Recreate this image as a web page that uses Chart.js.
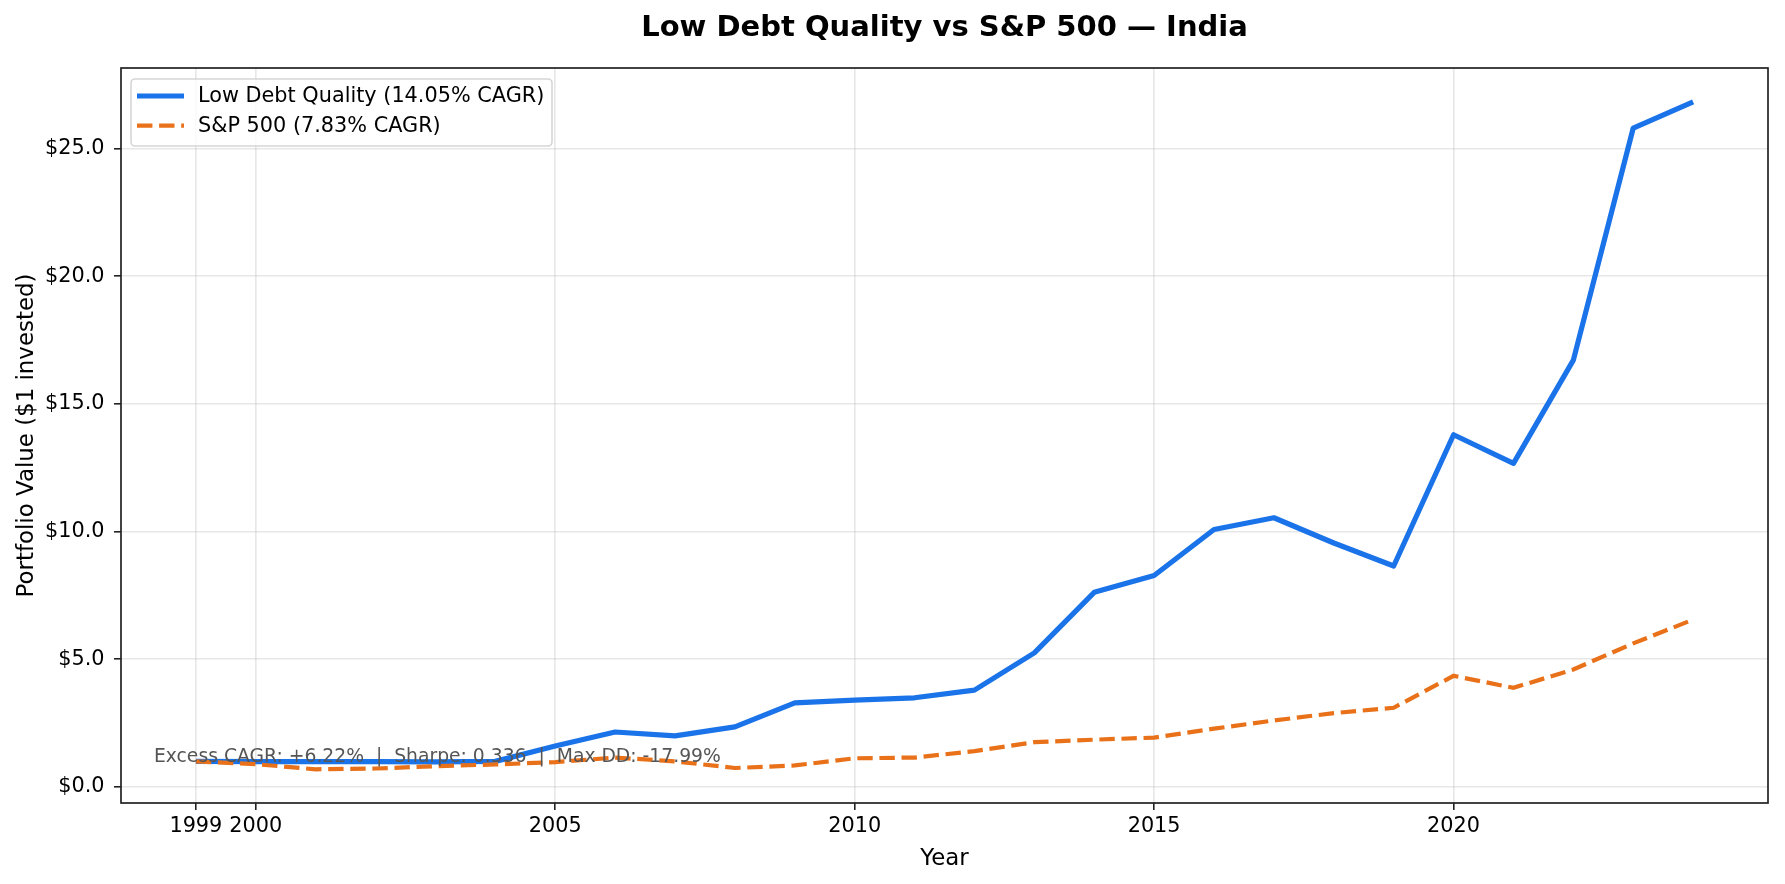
<!DOCTYPE html>
<html>
<head>
<meta charset="utf-8">
<script src="https://cdn.jsdelivr.net/npm/chart.js@4.4.1/dist/chart.umd.min.js"></script>
<style>
  html, body { margin: 0; padding: 0; background: #fff; }
  #chart { display: block; }
</style>
</head>
<body>
<canvas id="chart" width="1785" height="884"></canvas>
<script>
const years = [1999, 2000, 2001, 2002, 2003, 2004, 2005, 2006, 2007, 2008, 2009, 2010, 2011, 2012,
               2013, 2014, 2015, 2016, 2017, 2018, 2019, 2020, 2021, 2022, 2023, 2024];
const lowDebt = [1.0, 0.99, 0.99, 0.99, 0.98, 1.0, 1.6, 2.15, 2.0, 2.35, 3.29, 3.4, 3.49, 3.79,
                 5.25, 7.62, 8.28, 10.08, 10.54, 9.55, 8.65, 13.79, 12.67, 16.71, 25.8, 26.82];
const sp500 = [1.0, 0.89, 0.69, 0.72, 0.81, 0.88, 0.97, 1.15, 1.0, 0.74, 0.84, 1.12, 1.15, 1.4,
               1.75, 1.85, 1.93, 2.28, 2.6, 2.89, 3.1, 4.35, 3.88, 4.6, 5.62, 6.55];
const seriesNames = ["Low Debt Quality (14.05% CAGR)", "S&P 500 (7.83% CAGR)"];
const xTicks = [1999, 2000, 2005, 2010, 2015, 2020];
const yTicks = [0, 5, 10, 15, 20, 25];
const chartTitle = "Low Debt Quality vs S&P 500 \u2014 India";
const statsText = "Excess CAGR: +6.22%  |  Sharpe: 0.336  |  Max DD: -17.99%";

const FONT = "'DejaVu Sans', 'Liberation Sans', sans-serif";
const BLUE = "#1a73e8";
const ORANGE = "#e8711a";
const GRID = "rgba(176,176,176,0.3)";

Chart.defaults.color = "#000";
Chart.defaults.font.family = FONT;

// matplotlib-like title over the axes, frame, in-axes legend and stats text
const axesExtras = {
    id: "axesExtras",
    afterDatasetsDraw(chart) {
        const { ctx, chartArea: a } = chart;
        ctx.save();
        // title, centred on the plot area
        ctx.font = `bold 29px ${FONT}`;
        ctx.fillStyle = "#000";
        ctx.textAlign = "center";
        ctx.textBaseline = "middle";
        ctx.fillText(chartTitle, (a.left + a.right) / 2, 28);

        // stats text
        ctx.font = `18.75px ${FONT}`;
        ctx.fillStyle = "#555";
        ctx.textAlign = "left";
        ctx.textBaseline = "alphabetic";
        ctx.fillText(statsText, a.left + 0.02 * (a.right - a.left), 762);

        // legend box
        const bx = a.left + 10, by = a.top + 11, bw = 421, bh = 67;
        ctx.fillStyle = "rgba(255,255,255,0.8)";
        ctx.strokeStyle = "rgba(204,204,204,0.8)";
        ctx.lineWidth = 1.6;
        ctx.beginPath();
        ctx.roundRect(bx, by, bw, bh, 4);
        ctx.fill();
        ctx.stroke();
        ctx.font = `20.8px ${FONT}`;
        ctx.textBaseline = "middle";
        chart.data.datasets.forEach((ds, i) => {
            const y = by + 17 + i * 29.7;
            ctx.strokeStyle = ds.borderColor;
            ctx.lineWidth = ds.borderWidth;
            ctx.setLineDash(ds.borderDash || []);
            ctx.beginPath();
            ctx.moveTo(bx + 6, y);
            ctx.lineTo(bx + 53, y);
            ctx.stroke();
            ctx.setLineDash([]);
            ctx.fillStyle = "#000";
            ctx.fillText(ds.label, bx + 67, y + 1);
        });

        // spines
        ctx.strokeStyle = "#222";
        ctx.lineWidth = 1.7;
        ctx.strokeRect(a.left, a.top, a.right - a.left, a.bottom - a.top);
        ctx.restore();
    }
};

new Chart(document.getElementById("chart"), {
    type: "line",
    data: {
        datasets: [
            {
                label: seriesNames[0],
                data: years.map((y, i) => ({ x: y, y: lowDebt[i] })),
                borderColor: BLUE,
                borderWidth: 5.2,
                pointRadius: 0,
                tension: 0,
                borderJoinStyle: "round",
                order: 2
            },
            {
                label: seriesNames[1],
                data: years.map((y, i) => ({ x: y, y: sp500[i] })),
                borderColor: ORANGE,
                borderWidth: 4.2,
                borderDash: [15.4, 6.7],
                pointRadius: 0,
                tension: 0,
                order: 1
            }
        ]
    },
    options: {
        responsive: false,
        devicePixelRatio: 1,
        animation: false,
        layout: { padding: { left: 0, right: 17, top: 68, bottom: 0 } },
        plugins: {
            legend: { display: false },
            tooltip: { enabled: false },
            title: { display: false }
        },
        scales: {
            x: {
                type: "linear",
                min: 1997.75,
                max: 2025.25,
                afterBuildTicks: (scale) => { scale.ticks = xTicks.map(v => ({ value: v })); },
                afterFit: (scale) => { scale.height = 81; },
                ticks: {
                    autoSkip: false,
                    maxRotation: 0,
                    padding: 4,
                    font: { size: 20.8 },
                    callback: (v) => String(v)
                },
                grid: { color: GRID, lineWidth: 1.6, tickColor: "#222", tickLength: 7, tickWidth: 1.6 },
                border: { display: false },
                title: { display: true, text: "Year", font: { size: 22.9, lineHeight: 1.2 }, padding: { top: 0, bottom: 10.8 } }
            },
            y: {
                min: -0.63,
                max: 28.15,
                afterBuildTicks: (scale) => { scale.ticks = yTicks.map(v => ({ value: v })); },
                afterFit: (scale) => { scale.width = 121; },
                ticks: {
                    padding: 9.5,
                    font: { size: 20.8 },
                    callback: (v) => "$" + v.toFixed(1)
                },
                grid: { color: GRID, lineWidth: 1.6, tickColor: "#222", tickLength: 7, tickWidth: 1.6 },
                border: { display: false },
                title: { display: true, text: "Portfolio Value ($1 invested)", font: { size: 22.9, lineHeight: 1.2 }, padding: { top: 13.5, bottom: 0 } }
            }
        }
    },
    plugins: [axesExtras]
});
</script>
</body>
</html>
